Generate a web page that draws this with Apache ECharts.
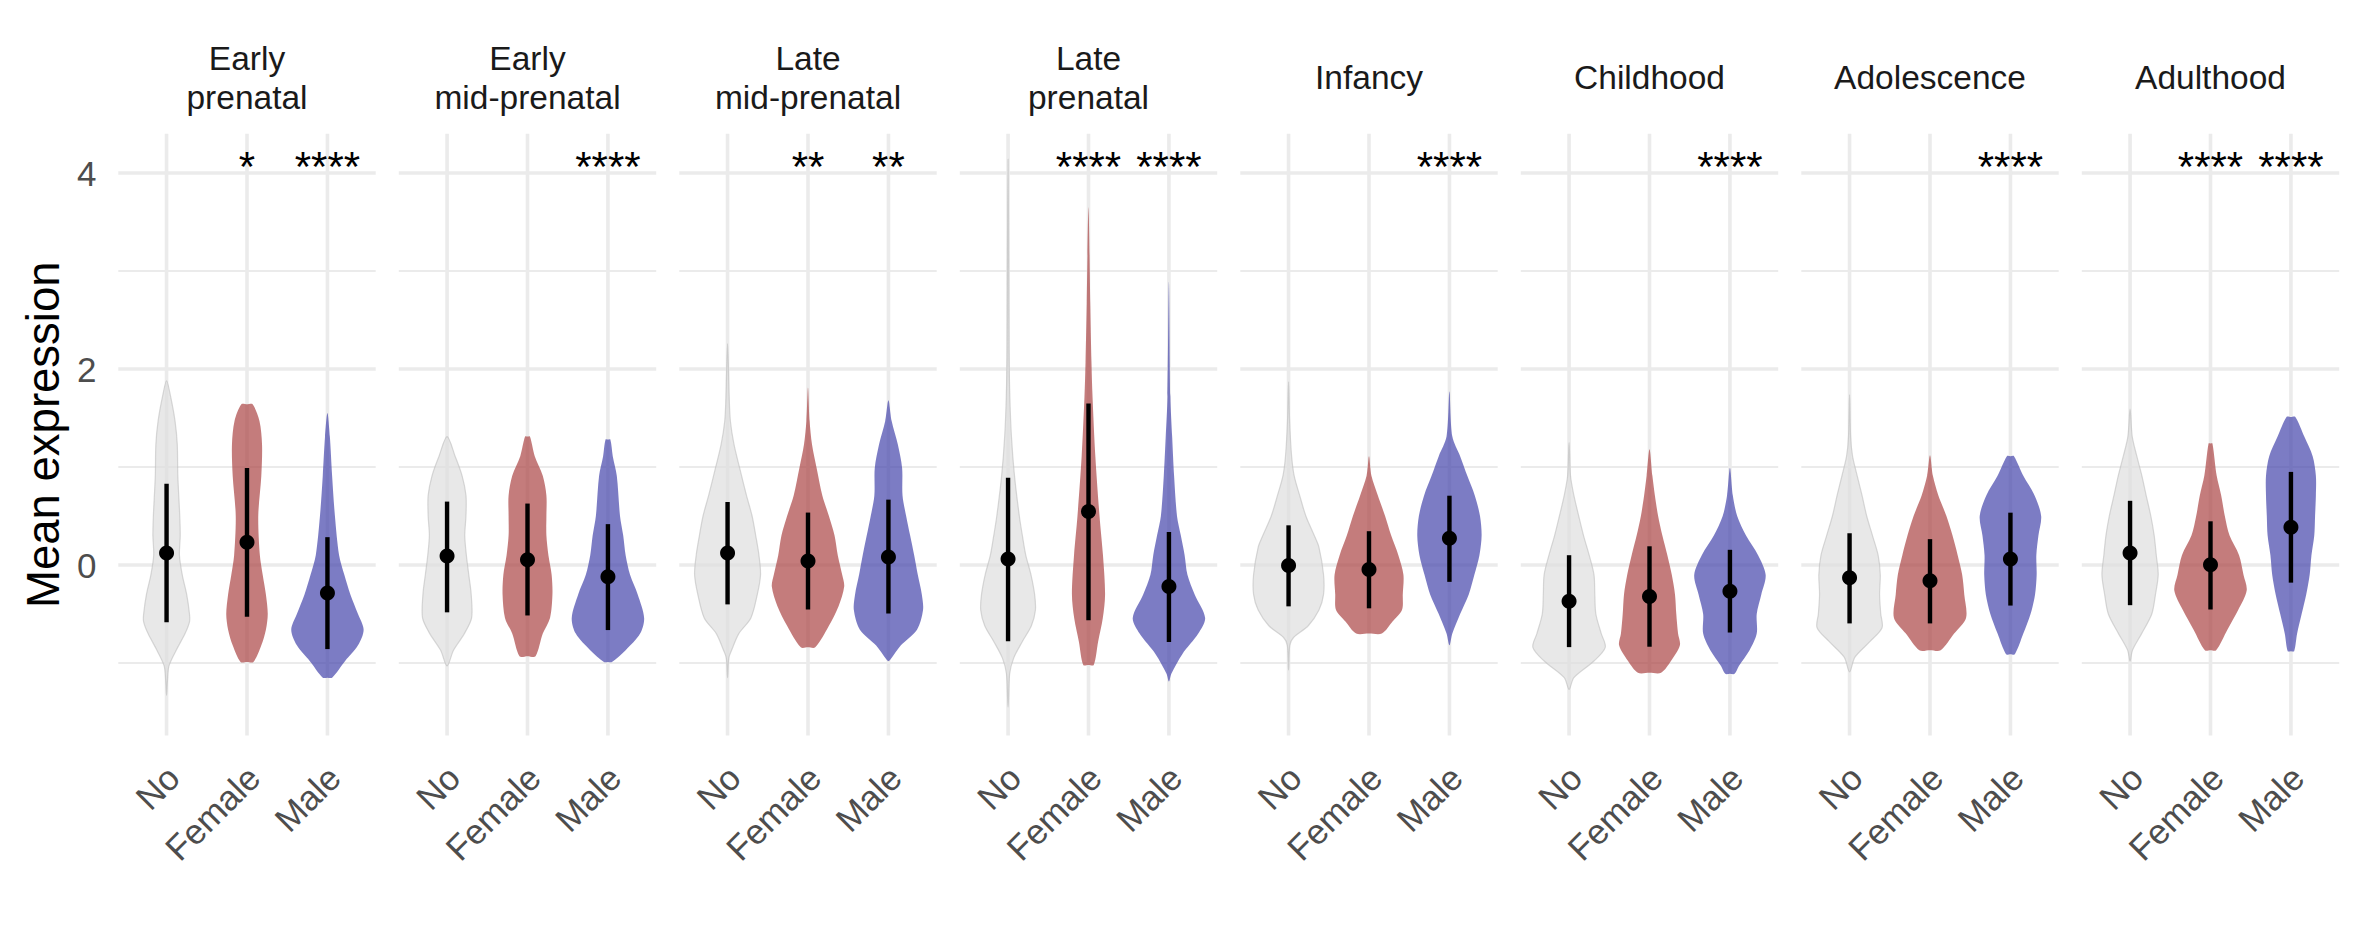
<!DOCTYPE html>
<html><head><meta charset="utf-8">
<script src="https://cdn.jsdelivr.net/npm/echarts@6/dist/echarts.min.js"></script>
<style>html,body{margin:0;padding:0;background:#fff}#c{width:2362px;height:944px}</style>
</head><body><div id="c"></div>
<script>
// ---------------- DATA ----------------
const stages = ['Early\nprenatal', 'Early\nmid-prenatal', 'Late\nmid-prenatal', 'Late\nprenatal',
                'Infancy', 'Childhood', 'Adolescence', 'Adulthood'];
const groups = ['No', 'Female', 'Male'];
const yTickLabels = [0, 2, 4];
const yMajorGrid = [0, 2, 4];
const yMinorGrid = [-1, 1, 3];
const Y_MIN = -1.74, Y_MAX = 4.40;
const STAR_Y = 4.07;

// mean and error-bar bounds per stage
const meanNo     = [0.122, 0.091, 0.122, 0.062, -0.006, -0.369, -0.131, 0.122];
const lowNo      = [-0.583, -0.483, -0.402, -0.777, -0.422, -0.838, -0.596, -0.410];
const highNo     = [0.829, 0.647, 0.643, 0.890, 0.405, 0.100, 0.324, 0.655];
const meanFemale = [0.232, 0.054, 0.042, 0.546, -0.047, -0.321, -0.160, 0.002];
const lowFemale  = [-0.527, -0.515, -0.454, -0.563, -0.442, -0.834, -0.596, -0.454];
const highFemale = [0.990, 0.627, 0.535, 1.648, 0.345, 0.191, 0.264, 0.446];
const meanMale   = [-0.285, -0.119, 0.082, -0.220, 0.272, -0.269, 0.062, 0.385];
const lowMale    = [-0.858, -0.664, -0.495, -0.786, -0.172, -0.689, -0.414, -0.180];
const highMale   = [0.284, 0.417, 0.667, 0.337, 0.707, 0.155, 0.534, 0.950];

const starsFemale = ['*', '', '**', '****', '', '', '', '****'];
const starsMale   = ['****', '****', '**', '****', '****', '****', '****', '****'];

// violin outlines: [value, half-width in category units]
const violinNo = [
  [[1.88,0],[1.72,0.05],[1.47,0.105],[1.23,0.133],[0.91,0.14],[0.5,0.164],[0.3,0.17],[0.1,0.16],[-0.1,0.195],[-0.3,0.25],[-0.5,0.285],[-0.58,0.285],[-0.7,0.23],[-0.87,0.12],[-1.03,0.03],[-1.19,0.01],[-1.33,0]],
  [[1.31,0],[1.11,0.1],[0.91,0.187],[0.71,0.235],[0.5,0.235],[0.3,0.22],[0.1,0.24],[-0.1,0.27],[-0.3,0.3],[-0.54,0.305],[-0.7,0.215],[-0.87,0.08],[-1.03,0]],
  [[2.26,0],[1.72,0.02],[1.47,0.035],[1.23,0.08],[0.99,0.15],[0.71,0.235],[0.5,0.305],[0.3,0.35],[0.1,0.39],[-0.1,0.41],[-0.3,0.37],[-0.54,0.29],[-0.7,0.14],[-0.87,0.05],[-0.95,0.015],[-1.15,0]],
  [[4.14,0],[3.0,0.008],[2.2,0.012],[1.72,0.022],[1.31,0.042],[0.91,0.08],[0.5,0.14],[0.3,0.178],[0.1,0.22],[-0.1,0.285],[-0.3,0.33],[-0.46,0.34],[-0.62,0.29],[-0.78,0.178],[-0.95,0.07],[-1.11,0.02],[-1.45,0]],
  [[1.87,0],[1.47,0.013],[1.11,0.038],[0.91,0.07],[0.71,0.138],[0.5,0.215],[0.3,0.32],[0.18,0.378],[-0.1,0.435],[-0.3,0.435],[-0.46,0.378],[-0.62,0.245],[-0.74,0.062],[-0.82,0.015],[-1.07,0]],
  [[1.25,0],[0.91,0.018],[0.71,0.06],[0.5,0.12],[0.3,0.18],[0.1,0.25],[-0.1,0.31],[-0.3,0.32],[-0.5,0.333],[-0.7,0.4],[-0.84,0.45],[-0.98,0.31],[-1.15,0.06],[-1.27,0]],
  [[1.74,0],[1.31,0.013],[1.11,0.037],[0.91,0.095],[0.71,0.155],[0.5,0.213],[0.3,0.285],[0.1,0.355],[-0.1,0.382],[-0.3,0.373],[-0.5,0.388],[-0.64,0.404],[-0.78,0.255],[-0.94,0.067],[-1.09,0]],
  [[1.59,0],[1.31,0.027],[1.11,0.084],[0.91,0.147],[0.71,0.2],[0.5,0.258],[0.3,0.3],[0.1,0.326],[-0.1,0.35],[-0.3,0.316],[-0.5,0.27],[-0.7,0.144],[-0.87,0.03],[-0.98,0]]
];
const violinFemale = [
  [[1.64,0],[1.64,0.07],[1.47,0.155],[1.23,0.187],[0.91,0.178],[0.5,0.14],[0.1,0.16],[-0.1,0.195],[-0.3,0.235],[-0.5,0.258],[-0.66,0.235],[-0.82,0.178],[-0.99,0.08],[-0.99,0]],
  [[1.31,0],[1.31,0.03],[1.11,0.09],[0.91,0.19],[0.71,0.235],[0.5,0.235],[0.3,0.235],[0.1,0.26],[-0.1,0.3],[-0.3,0.31],[-0.54,0.28],[-0.7,0.19],[-0.93,0.1],[-0.93,0]],
  [[1.81,0],[1.47,0.02],[1.23,0.05],[0.99,0.107],[0.71,0.178],[0.5,0.26],[0.3,0.33],[0.1,0.37],[-0.1,0.425],[-0.22,0.45],[-0.42,0.38],[-0.62,0.26],[-0.84,0.09],[-0.84,0]],
  [[3.65,0],[2.67,0.022],[2.07,0.037],[1.72,0.05],[1.11,0.085],[0.5,0.137],[0.1,0.18],[-0.3,0.206],[-0.54,0.178],[-0.78,0.12],[-1.02,0.065],[-1.02,0]],
  [[1.11,0],[0.91,0.03],[0.71,0.11],[0.5,0.2],[0.3,0.276],[0.1,0.365],[-0.1,0.428],[-0.3,0.42],[-0.46,0.41],[-0.58,0.29],[-0.7,0.16],[-0.7,0]],
  [[1.18,0],[0.91,0.036],[0.71,0.067],[0.5,0.107],[0.3,0.16],[0.1,0.222],[-0.1,0.277],[-0.3,0.317],[-0.5,0.333],[-0.7,0.355],[-0.82,0.378],[-0.98,0.267],[-1.1,0.144],[-1.1,0]],
  [[1.12,0],[0.91,0.036],[0.71,0.104],[0.5,0.204],[0.3,0.28],[0.1,0.344],[-0.1,0.4],[-0.3,0.426],[-0.54,0.448],[-0.7,0.3],[-0.87,0.133],[-0.87,0]],
  [[1.24,0],[1.24,0.024],[0.91,0.077],[0.71,0.133],[0.5,0.178],[0.3,0.237],[0.1,0.355],[-0.1,0.41],[-0.26,0.45],[-0.46,0.344],[-0.66,0.21],[-0.87,0.07],[-0.87,0]]
];
const violinMale = [
  [[1.55,0],[1.31,0.03],[0.91,0.058],[0.5,0.093],[0.1,0.145],[-0.1,0.21],[-0.3,0.285],[-0.5,0.38],[-0.66,0.45],[-0.82,0.38],[-0.98,0.22],[-1.15,0.058],[-1.15,0]],
  [[1.28,0],[1.28,0.03],[1.11,0.06],[0.91,0.11],[0.5,0.15],[0.3,0.19],[0.1,0.22],[-0.1,0.275],[-0.3,0.37],[-0.54,0.45],[-0.7,0.4],[-0.87,0.22],[-0.99,0.05],[-0.99,0]],
  [[1.68,0],[1.47,0.04],[1.23,0.117],[0.99,0.17],[0.71,0.175],[0.5,0.22],[0.3,0.27],[0.1,0.32],[-0.1,0.365],[-0.3,0.415],[-0.46,0.43],[-0.66,0.355],[-0.82,0.155],[-0.97,0.02],[-0.98,0]],
  [[2.89,0],[1.72,0.018],[1.31,0.04],[0.91,0.064],[0.5,0.1],[0.3,0.148],[0.1,0.195],[-0.1,0.23],[-0.3,0.32],[-0.54,0.45],[-0.7,0.365],[-0.91,0.166],[-1.11,0.03],[-1.19,0]],
  [[1.77,0],[1.31,0.036],[1.11,0.133],[0.91,0.222],[0.71,0.315],[0.5,0.38],[0.3,0.4],[0.1,0.373],[-0.1,0.31],[-0.3,0.24],[-0.5,0.133],[-0.7,0.036],[-0.82,0]],
  [[0.99,0],[0.71,0.036],[0.5,0.09],[0.3,0.2],[0.1,0.35],[-0.1,0.444],[-0.3,0.39],[-0.5,0.333],[-0.7,0.333],[-0.87,0.244],[-1.03,0.111],[-1.11,0.058],[-1.11,0]],
  [[1.11,0],[1.11,0.044],[0.91,0.16],[0.71,0.3],[0.5,0.382],[0.3,0.348],[0.1,0.322],[-0.1,0.326],[-0.3,0.306],[-0.5,0.25],[-0.7,0.16],[-0.91,0.055],[-0.91,0]],
  [[1.51,0],[1.51,0.055],[1.31,0.166],[1.11,0.27],[0.91,0.31],[0.71,0.31],[0.5,0.3],[0.3,0.29],[0.1,0.255],[-0.1,0.233],[-0.3,0.19],[-0.5,0.133],[-0.7,0.077],[-0.88,0.04],[-0.88,0]]
];

// ---------------- STYLE / LAYOUT ----------------
const FONT = '"Liberation Sans", Arial, Helvetica, sans-serif';
const GRID_COLOR = '#ebebeb';
const violinFill = ['rgba(222,222,222,0.7)', 'rgba(171,68,68,0.7)', 'rgba(68,68,171,0.7)'];
const violinStroke = ['rgba(185,185,185,0.55)', 'rgba(171,68,68,0.0)', 'rgba(68,68,171,0.0)'];
const PANEL_LEFT0 = 118.3, PANEL_PITCH = 280.5, PANEL_W = 257.4;
const UNIT = PANEL_W / 3.2;
const GRID_TOP = 565 - 98 * Y_MAX;
const GRID_H = 98 * (Y_MAX - Y_MIN);

const profiles = [violinNo, violinFemale, violinMale];
const means = [meanNo, meanFemale, meanMale];
const lows = [lowNo, lowFemale, lowMale];
const highs = [highNo, highFemale, highMale];

function dedupe(pts) {
  const out = [];
  pts.forEach(p => {
    const l = out[out.length - 1];
    if (!l || Math.abs(l[0] - p[0]) > 0.01 || Math.abs(l[1] - p[1]) > 0.01) out.push(p);
  });
  const f = out[0], l = out[out.length - 1];
  if (out.length > 1 && Math.abs(f[0] - l[0]) < 0.01 && Math.abs(f[1] - l[1]) < 0.01) out.pop();
  return out;
}

const grids = [], xAxes = [], yAxes = [], series = [], graphics = [];
stages.forEach((st, i) => {
  const panelLeft = PANEL_LEFT0 + i * PANEL_PITCH;
  grids.push({ left: panelLeft + 0.1 * UNIT, top: GRID_TOP, width: 3 * UNIT, height: GRID_H, containLabel: false });
  xAxes.push({
    type: 'category', gridIndex: i, data: groups,
    axisLine: { show: false }, axisTick: { show: false }, splitLine: { show: false },
    axisLabel: { interval: 0, rotate: 45, fontSize: 35, color: '#4d4d4d', fontFamily: FONT,
                 margin: 18, align: 'right', verticalAlign: 'top', padding: [0, 8, 0, 0] }
  });
  const ya = {
    type: 'value', gridIndex: i, min: Y_MIN, max: Y_MAX,
    axisLine: { show: false }, axisTick: { show: false }, splitLine: { show: false },
    axisLabel: { show: i === 0, customValues: yTickLabels, fontSize: 35, color: '#4d4d4d', fontFamily: FONT, margin: 30 }
  };
  if (i === 0) {
    ya.name = 'Mean expression';
    ya.nameLocation = 'middle';
    ya.nameRotate = 90;
    ya.nameGap = 60;
    ya.nameTextStyle = { fontSize: 45.5, color: '#000', fontFamily: FONT };
  }
  yAxes.push(ya);

  const bandW = (api) => api.coord([1, 0])[0] - api.coord([0, 0])[0];

  // horizontal grid lines
  const hData = yMinorGrid.map(v => [0, v, 0]).concat(yMajorGrid.map(v => [0, v, 1]));
  series.push({
    type: 'custom', xAxisIndex: i, yAxisIndex: i, z: 1, silent: true, clip: false,
    data: hData, encode: { x: 0, y: 1 },
    renderItem: (params, api) => {
      const v = api.value(1), major = api.value(2);
      const bw = bandW(api);
      const p0 = api.coord([0, v]), p2 = api.coord([2, v]);
      return { type: 'line', shape: { x1: p0[0] - 0.6 * bw, y1: p0[1], x2: p2[0] + 0.6 * bw, y2: p0[1] },
               style: { stroke: GRID_COLOR, lineWidth: major ? 3.6 : 1.9 } };
    }
  });
  // vertical grid lines
  series.push({
    type: 'custom', xAxisIndex: i, yAxisIndex: i, z: 1, silent: true, clip: false,
    data: groups.map((g, c) => [c, Y_MIN]), encode: { x: 0, y: 1 },
    renderItem: (params, api) => {
      const c = api.value(0);
      const a = api.coord([c, Y_MAX]), b = api.coord([c, Y_MIN]);
      return { type: 'line', shape: { x1: a[0], y1: a[1], x2: b[0], y2: b[1] },
               style: { stroke: GRID_COLOR, lineWidth: 3.6 } };
    }
  });
  // violins
  series.push({
    type: 'custom', xAxisIndex: i, yAxisIndex: i, z: 2, silent: true, clip: false,
    data: groups.map((g, c) => [c, 0]), encode: { x: 0, y: 1 },
    renderItem: (params, api) => {
      const c = api.value(0);
      const prof = profiles[c][i];
      const bw = bandW(api);
      const cx = api.coord([c, 0])[0];
      const right = [], left = [];
      prof.forEach(([v, hw]) => {
        const y = api.coord([c, v])[1];
        right.push([cx + hw * bw, y]);
        left.push([cx - hw * bw, y]);
      });
      const pts = dedupe(right.concat(left.reverse()));
      return { type: 'polygon', shape: { points: pts, smooth: 0.3 },
               style: { fill: violinFill[c], stroke: violinStroke[c], lineWidth: 1.2 } };
    }
  });
  // error bars
  series.push({
    type: 'custom', xAxisIndex: i, yAxisIndex: i, z: 3, silent: true, clip: false,
    data: groups.map((g, c) => [c, lows[c][i], highs[c][i]]), encode: { x: 0, y: [1, 2] },
    renderItem: (params, api) => {
      const c = api.value(0);
      const a = api.coord([c, api.value(1)]), b = api.coord([c, api.value(2)]);
      return { type: 'line', shape: { x1: a[0], y1: a[1], x2: b[0], y2: b[1] },
               style: { stroke: '#000', lineWidth: 4.4, lineCap: 'butt' } };
    }
  });
  // means
  series.push({
    type: 'scatter', xAxisIndex: i, yAxisIndex: i, z: 4, silent: true,
    symbol: 'circle', symbolSize: 15, itemStyle: { color: '#000', opacity: 1 },
    data: groups.map((g, c) => [c, means[c][i]])
  });
  // significance stars
  const starTexts = ['', starsFemale[i], starsMale[i]];
  series.push({
    type: 'custom', xAxisIndex: i, yAxisIndex: i, z: 5, silent: true, clip: false,
    data: groups.map((g, c) => [c, STAR_Y]), encode: { x: 0, y: 1 },
    renderItem: (params, api) => {
      const c = api.value(0);
      const p = api.coord([c, api.value(1)]);
      return { type: 'text', x: p[0], y: p[1],
               style: { text: starTexts[c], fontSize: 42, fontFamily: FONT, fill: '#000',
                        align: 'center', verticalAlign: 'middle' } };
    }
  });
  // facet strip title
  graphics.push({
    type: 'text', x: panelLeft + PANEL_W / 2, y: 77.5, silent: true,
    style: { text: st, fontSize: 33.5, lineHeight: 39, fontFamily: FONT, fill: '#1a1a1a',
             align: 'center', verticalAlign: 'middle' }
  });
});

const chart = echarts.init(document.getElementById('c'), null, { renderer: 'svg', width: 2362, height: 944 });
chart.setOption({
  backgroundColor: '#ffffff',
  animation: false,
  grid: grids, xAxis: xAxes, yAxis: yAxes, series: series, graphic: graphics
});
</script></body></html>
